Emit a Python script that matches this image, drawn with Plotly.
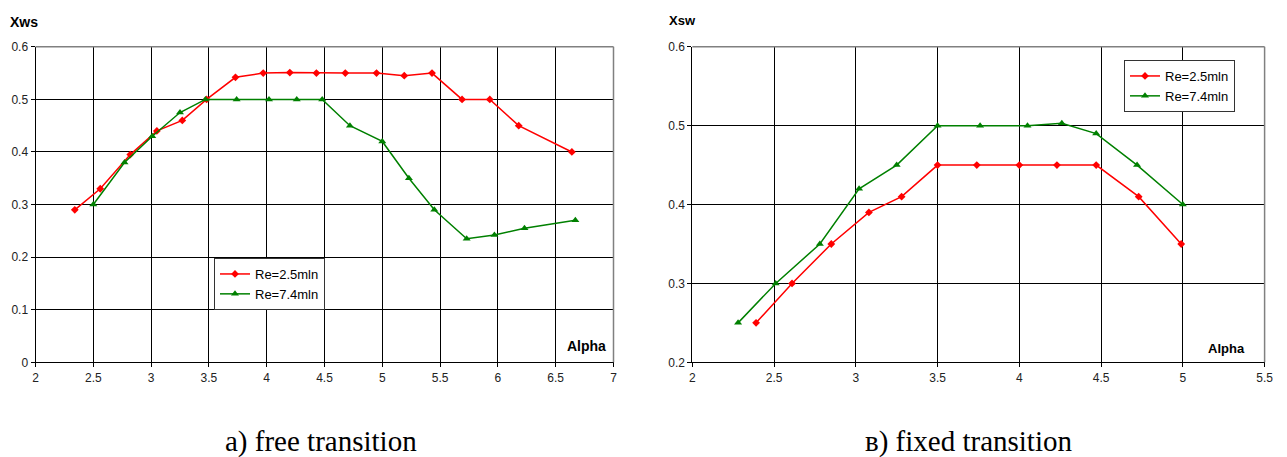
import plotly.graph_objects as go

# Panel (a): free transition
alpha_free_re25 = [2.34, 2.56, 2.82, 3.05, 3.27, 3.48, 3.73, 3.97, 4.20, 4.43, 4.68, 4.95, 5.19, 5.43, 5.69, 5.93, 6.18, 6.64]
xws_free_re25 = [0.29, 0.33, 0.395, 0.44, 0.46, 0.50, 0.542, 0.55, 0.551, 0.55, 0.55, 0.55, 0.545, 0.55, 0.50, 0.50, 0.45, 0.40]
alpha_free_re74 = [2.50, 2.77, 3.01, 3.25, 3.47, 3.74, 4.02, 4.26, 4.48, 4.72, 5.00, 5.23, 5.45, 5.73, 5.97, 6.23, 6.67]
xws_free_re74 = [0.30, 0.38, 0.43, 0.475, 0.50, 0.50, 0.50, 0.50, 0.50, 0.45, 0.42, 0.35, 0.29, 0.235, 0.242, 0.255, 0.27]

# Panel (b): fixed transition
alpha_fixed_re25 = [2.39, 2.61, 2.85, 3.08, 3.28, 3.50, 3.74, 4.00, 4.23, 4.47, 4.73, 4.99]
xsw_fixed_re25 = [0.25, 0.30, 0.35, 0.39, 0.41, 0.45, 0.45, 0.45, 0.45, 0.45, 0.41, 0.35]
alpha_fixed_re74 = [2.28, 2.51, 2.78, 3.02, 3.25, 3.50, 3.76, 4.05, 4.26, 4.47, 4.72, 5.00]
xsw_fixed_re74 = [0.25, 0.30, 0.35, 0.42, 0.45, 0.50, 0.50, 0.50, 0.503, 0.49, 0.45, 0.40]

series_names = ["Re=2.5mln", "Re=7.4mln"]
captions = ["a) free transition", "в) fixed transition"]

RED = "#FF0000"
GREEN = "#008000"
FONT = "Liberation Sans, Arial, sans-serif"
SERIF = "Liberation Serif, Times New Roman, serif"

W, H = 1287, 457
Y_DOM = [1 - 362.3 / H, 1 - 46.8 / H]
X_DOM_A = [35.5 / W, 613.5 / W]
X_DOM_B = [692.3 / W, 1264.6 / W]

fig = go.Figure()

def add_pair(xr, yr, xg, yg, xa, ya, legend):
    fig.add_trace(go.Scatter(
        x=xr, y=yr, name=series_names[0], mode="lines+markers",
        line=dict(color=RED, width=1.5),
        marker=dict(symbol="diamond", size=6, color=RED),
        xaxis=xa, yaxis=ya, legend=legend))
    fig.add_trace(go.Scatter(
        x=xg, y=yg, name=series_names[1], mode="lines+markers",
        line=dict(color=GREEN, width=1.5),
        marker=dict(symbol="triangle-up", size=7, color=GREEN),
        xaxis=xa, yaxis=ya, legend=legend))

add_pair(alpha_free_re25, xws_free_re25, alpha_free_re74, xws_free_re74, "x", "y", "legend")
add_pair(alpha_fixed_re25, xsw_fixed_re25, alpha_fixed_re74, xsw_fixed_re74, "x2", "y2", "legend2")

axis_common = dict(
    showgrid=True, gridcolor="#000000", gridwidth=1,
    showline=True, linecolor="#000000", linewidth=1,
    ticks="outside", ticklen=4, tickcolor="#000000",
    tickfont=dict(family=FONT, size=12, color="#222222"),
    zeroline=False, fixedrange=True, automargin=False,
)

legend_common = dict(
    xanchor="left", yanchor="top",
    bgcolor="white", bordercolor="#333333", borderwidth=1,
    font=dict(family=FONT, size=13, color="#000000"),
    tracegroupgap=0, itemwidth=30,
)

fig.update_layout(
    width=W, height=H,
    margin=dict(l=0, r=0, t=0, b=0, autoexpand=False),
    paper_bgcolor="white", plot_bgcolor="white",
    xaxis=dict(domain=X_DOM_A, range=[2, 7], dtick=0.5, tick0=2, anchor="y", **axis_common),
    yaxis=dict(domain=Y_DOM, range=[0, 0.6], dtick=0.1, tick0=0, anchor="x", **axis_common),
    xaxis2=dict(domain=X_DOM_B, range=[2, 5.5], dtick=0.5, tick0=2, anchor="y2", **axis_common),
    yaxis2=dict(domain=Y_DOM, range=[0.2, 0.6], dtick=0.1, tick0=0.2, anchor="x2", **axis_common),
    legend=dict(x=214 / W, y=1 - 258 / H, **legend_common),
    legend2=dict(x=1124 / W, y=1 - 60 / H, **legend_common),
    showlegend=True,
)

# Grey frame on the top and right edges of each plotting area
for xd in (X_DOM_A, X_DOM_B):
    fig.add_shape(type="line", xref="paper", yref="paper",
                  x0=xd[0], x1=xd[1], y0=Y_DOM[1], y1=Y_DOM[1],
                  line=dict(color="#808080", width=1.5), layer="above")
    fig.add_shape(type="line", xref="paper", yref="paper",
                  x0=xd[1], x1=xd[1], y0=Y_DOM[0], y1=Y_DOM[1],
                  line=dict(color="#808080", width=1.5), layer="above")

def label(text, x, y, size, bold=True, family=FONT, xanchor="left"):
    fig.add_annotation(
        text=f"<b>{text}</b>" if bold else text,
        xref="paper", yref="paper", x=x / W, y=1 - y / H,
        xanchor=xanchor, yanchor="middle", showarrow=False,
        font=dict(family=family, size=size, color="#000000"))

# Axis titles
label("Xws", 8, 22, 14)
label("Alpha", 608, 346, 14, xanchor="right")
label("Xsw", 667, 21, 13)
label("Alpha", 1247, 348, 13, xanchor="right")

# Panel captions
label(captions[0], 321, 441, 29, bold=False, family=SERIF, xanchor="center")
label(captions[1], 968, 441, 29, bold=False, family=SERIF, xanchor="center")

fig.write_html("out.html")
